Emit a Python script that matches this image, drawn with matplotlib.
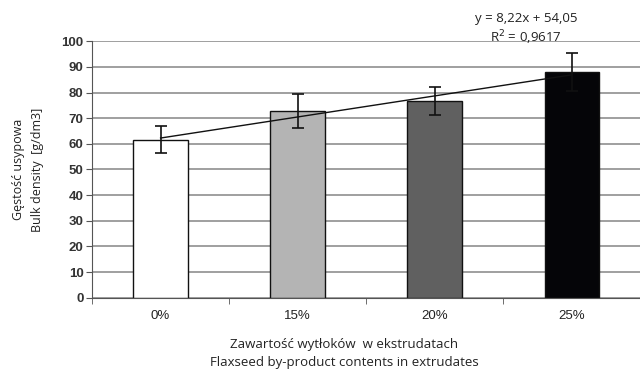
import matplotlib
matplotlib.use("Agg")
import matplotlib.pyplot as plt
import numpy as np

categories = ["0%", "15%", "20%", "25%"]
density = [61.6, 72.9, 76.6, 88.0]
density_err = [5.2, 6.6, 5.5, 7.3]
bar_colors = ["#ffffff", "#b4b4b4", "#606060", "#050508"]
yticks = [0, 10, 20, 30, 40, 50, 60, 70, 80, 90, 100]
trend_slope = 8.22
trend_intercept = 54.05
trend_r2 = 0.9617

fig = plt.figure(figsize=(6.4, 3.7), dpi=100)
ax = fig.add_axes([0.1438, 0.1954, 0.857, 0.693])

x = np.arange(1, len(categories) + 1)
ax.set_axisbelow(True)
ax.yaxis.grid(True, color="#8f8f8f", linewidth=1.2)
ax.bar(x, density, width=0.4, color=bar_colors, edgecolor="#111111",
       linewidth=1.0, zorder=2)
ax.errorbar(x, density, yerr=density_err, fmt="none", ecolor="#111111",
            elinewidth=1.2, capsize=4, capthick=1.2, zorder=3)

# linear trend over the category index
xt = np.array([x[0], x[-1]], dtype=float)
ax.plot(xt, trend_slope * xt + trend_intercept, color="#111111",
        linewidth=1.0, zorder=2.5)

ax.set_xlim(0.5, 4.5)
ax.set_ylim(0, 100)
ax.set_yticks(yticks)
ax.set_xticks(x)
ax.set_xticklabels(categories, fontsize=9.5, family="Liberation Sans", color="#222222")
ax.set_xticks(np.arange(0.5, 4.6, 1.0), minor=True)
ax.tick_params(axis="x", which="major", length=0, pad=9)
ax.tick_params(axis="x", which="minor", length=4, color="#555555")
ax.tick_params(axis="y", length=4, color="#555555", pad=2)
for lab in ax.get_yticklabels():
    lab.set_fontsize(9.5)
    lab.set_family("Liberation Sans")
    lab.set_fontweight("bold")
    lab.set_color("#333333")

for s in ["top", "right"]:
    ax.spines[s].set_visible(False)
ax.spines["left"].set_color("#555555")
ax.spines["bottom"].set_color("#555555")

ax.set_ylabel("Gęstość usypowa\nBulk density  [g/dm3]", fontsize=9,
              family="Open Sans", color="#222222", linespacing=1.6)
ax.yaxis.set_label_coords(-0.088, 0.5)
fig.text(0.538, 0.004, "Zawartość wytłoków  w ekstrudatach\nFlaxseed by-product contents in extrudates",
         ha="center", va="bottom", fontsize=9.5, family="Open Sans",
         color="#222222", linespacing=1.45)

eq = "y = {:.2f}x + {:.2f}".format(trend_slope, trend_intercept).replace(".", ",")
r2 = "R$^2$ = {:.4f}".format(trend_r2).replace(".", ",")
fig.text(0.822, 0.950, eq, ha="center", va="center", fontsize=9.5,
         family="Open Sans", color="#222222")
fig.text(0.822, 0.898, r2, ha="center", va="center", fontsize=9.5,
         family="Open Sans", color="#222222")

fig.savefig("out.png", dpi=100)
